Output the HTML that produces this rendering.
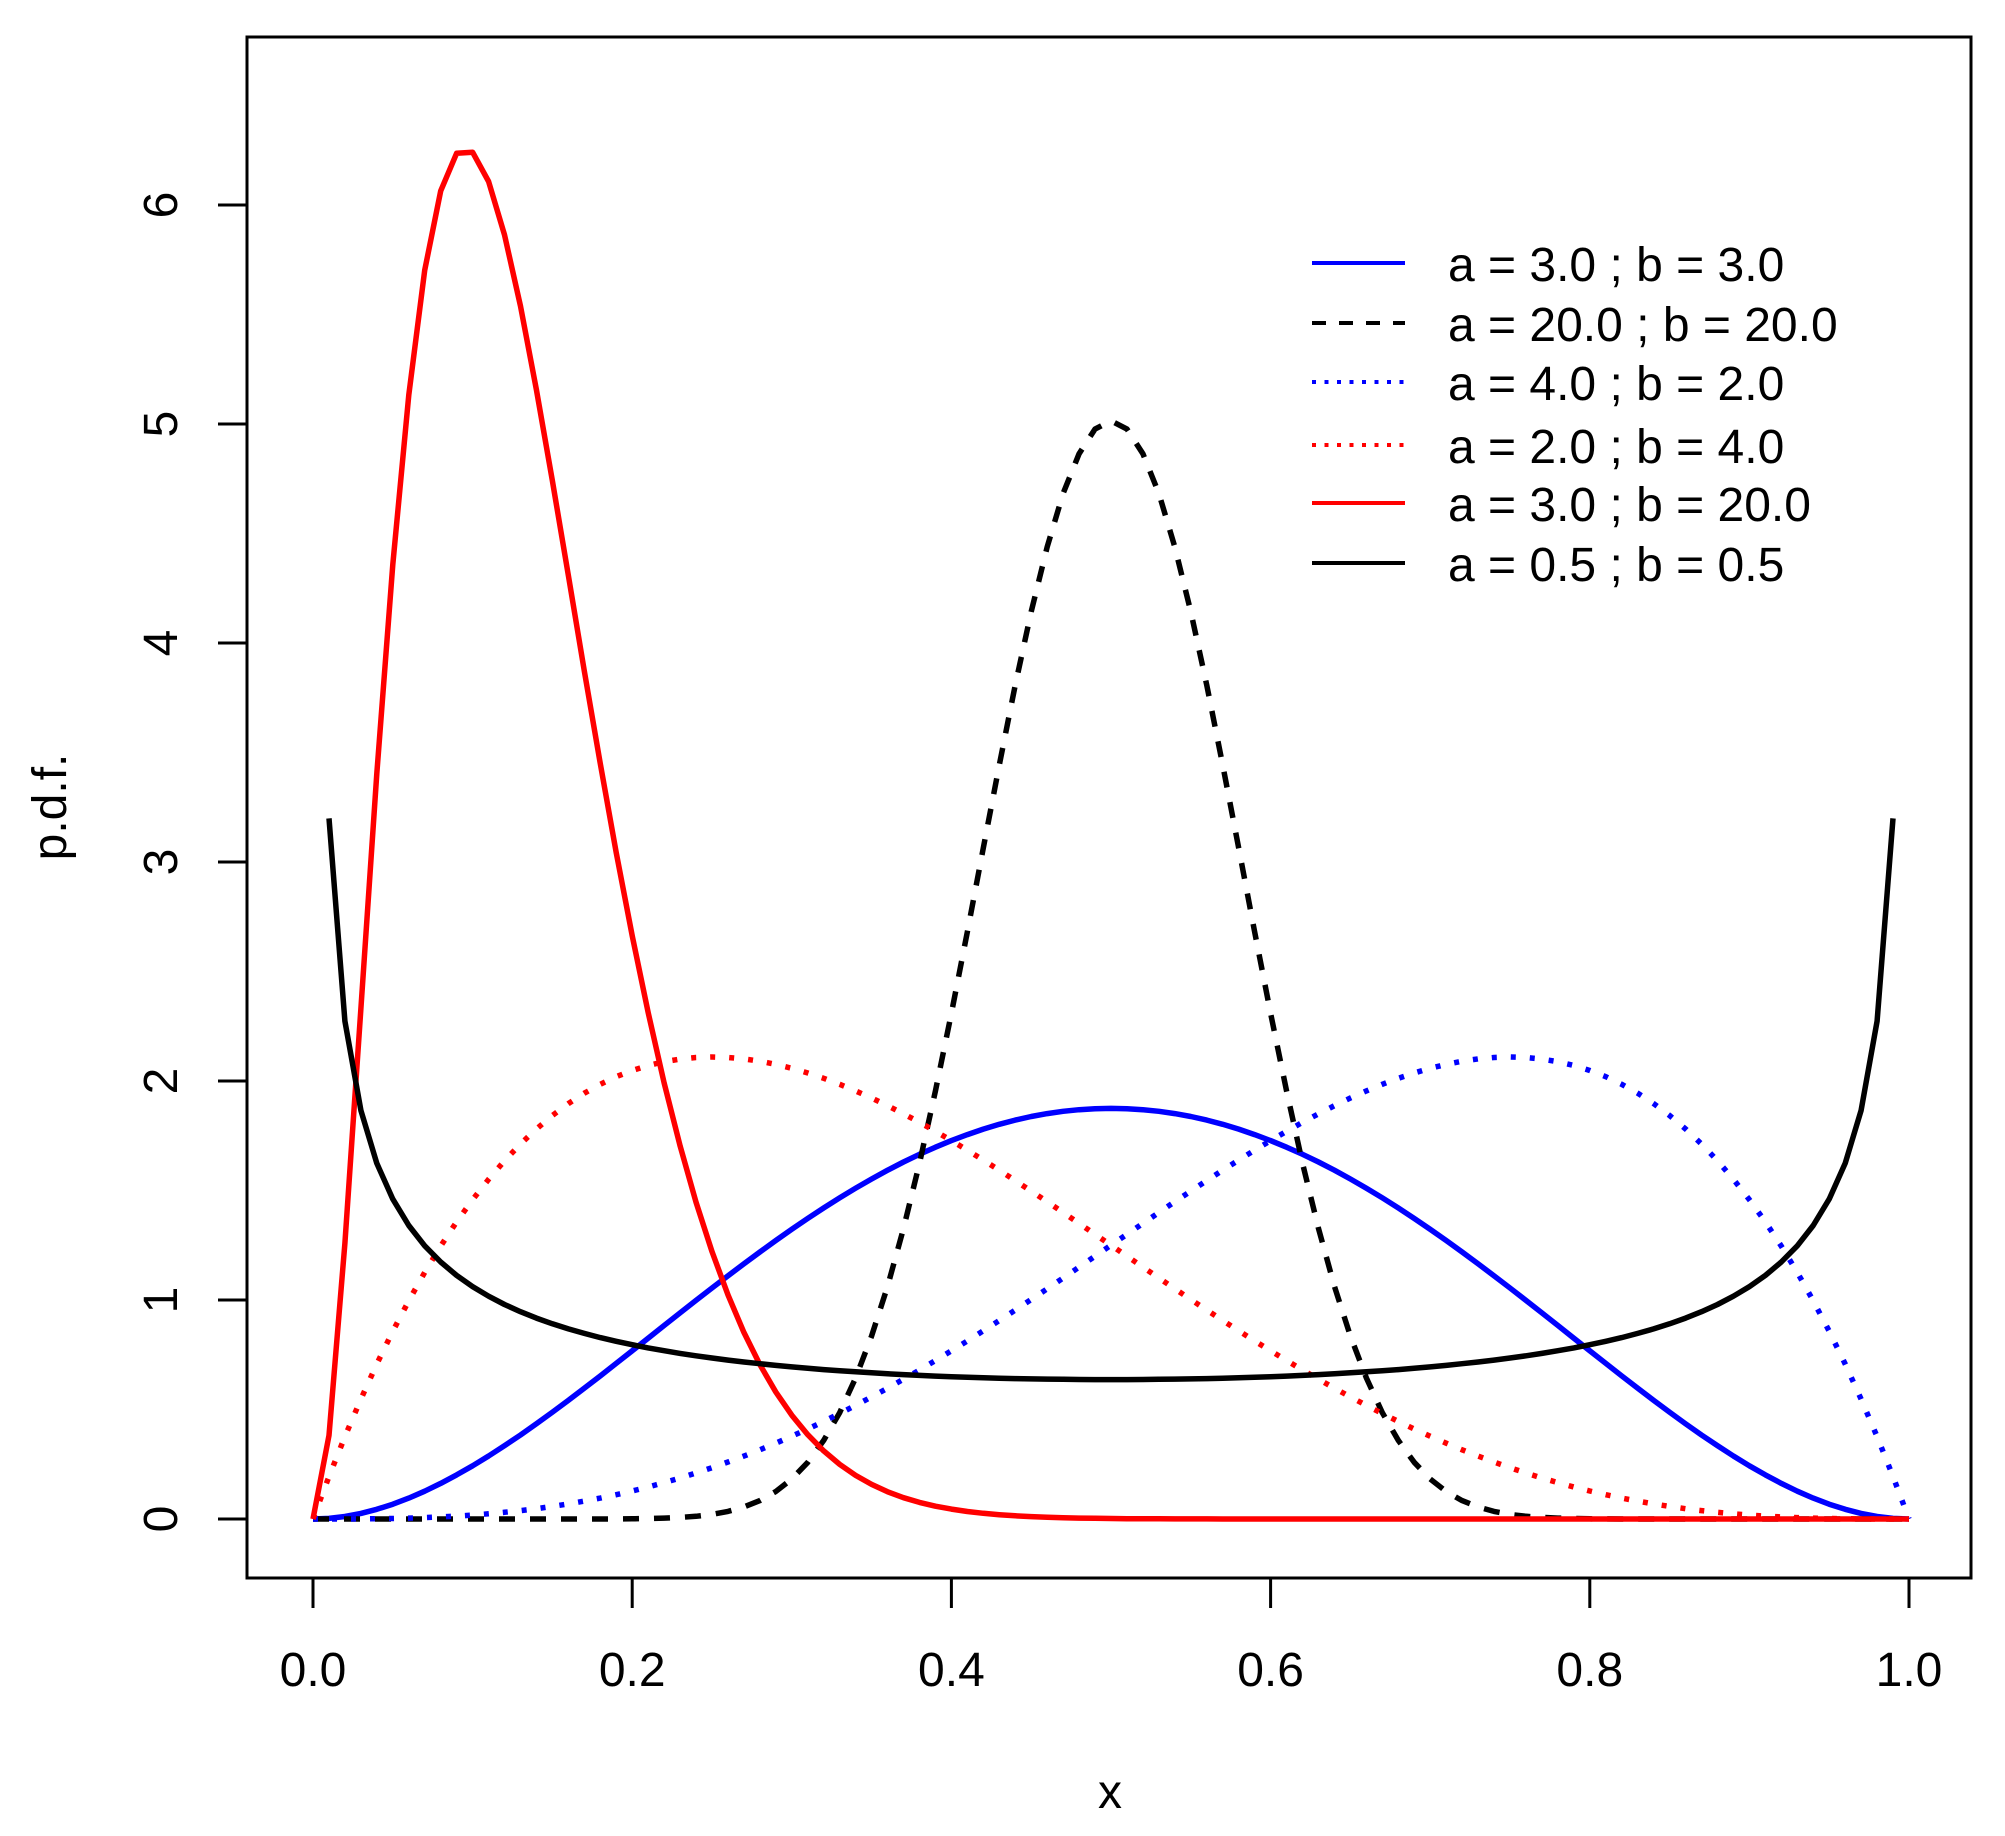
<!DOCTYPE html>
<html><head><meta charset="utf-8"><style>
html,body{margin:0;padding:0;background:#fff;}
svg{display:block;}
text{font-family:"Liberation Sans",Arial,sans-serif;fill:#000;}
</style></head><body>
<svg id="s" width="2005" height="1836" xmlns="http://www.w3.org/2000/svg">
<rect x="0" y="0" width="2005" height="1836" fill="#fff"/>
<g id="curves"></g>
<rect x="247" y="37" width="1724" height="1541" fill="none" stroke="#000" stroke-width="3"/>
<g stroke="#000" stroke-width="3">
<line x1="313" y1="1578" x2="1909" y2="1578"/>
<line x1="313" y1="1578" x2="313" y2="1608"/>
<line x1="632.2" y1="1578" x2="632.2" y2="1608"/>
<line x1="951.4" y1="1578" x2="951.4" y2="1608"/>
<line x1="1270.6" y1="1578" x2="1270.6" y2="1608"/>
<line x1="1589.8" y1="1578" x2="1589.8" y2="1608"/>
<line x1="1909" y1="1578" x2="1909" y2="1608"/>
<line x1="247" y1="1519" x2="247" y2="205"/>
<line x1="218" y1="1519" x2="247" y2="1519"/>
<line x1="218" y1="1300" x2="247" y2="1300"/>
<line x1="218" y1="1081" x2="247" y2="1081"/>
<line x1="218" y1="862" x2="247" y2="862"/>
<line x1="218" y1="643" x2="247" y2="643"/>
<line x1="218" y1="424" x2="247" y2="424"/>
<line x1="218" y1="205" x2="247" y2="205"/>
</g>
<g font-size="48" text-anchor="middle">
<text x="313" y="1686">0.0</text>
<text x="632.2" y="1686">0.2</text>
<text x="951.4" y="1686">0.4</text>
<text x="1270.6" y="1686">0.6</text>
<text x="1589.8" y="1686">0.8</text>
<text x="1909" y="1686">1.0</text>
<text x="1110" y="1808">x</text>
<text transform="translate(177,1519) rotate(-90)">0</text>
<text transform="translate(177,1300) rotate(-90)">1</text>
<text transform="translate(177,1081) rotate(-90)">2</text>
<text transform="translate(177,862) rotate(-90)">3</text>
<text transform="translate(177,643) rotate(-90)">4</text>
<text transform="translate(177,424) rotate(-90)">5</text>
<text transform="translate(177,205) rotate(-90)">6</text>
<text transform="translate(66,807) rotate(-90)">p.d.f.</text>
</g>
<g stroke-width="4">
<line x1="1312" y1="263" x2="1405" y2="263" stroke="#0000ff"/>
<line x1="1312" y1="323" x2="1405" y2="323" stroke="#000" stroke-dasharray="14 13"/>
<line x1="1312" y1="382" x2="1405" y2="382" stroke="#0000ff" stroke-dasharray="4 8.5"/>
<line x1="1312" y1="445" x2="1405" y2="445" stroke="#ff0000" stroke-dasharray="4 8.5"/>
<line x1="1312" y1="503" x2="1405" y2="503" stroke="#ff0000"/>
<line x1="1312" y1="563" x2="1405" y2="563" stroke="#000"/>
</g>
<g font-size="48">
<text x="1448" y="281">a = 3.0 ; b = 3.0</text>
<text x="1448" y="341">a = 20.0 ; b = 20.0</text>
<text x="1448" y="400">a = 4.0 ; b = 2.0</text>
<text x="1448" y="463">a = 2.0 ; b = 4.0</text>
<text x="1448" y="521">a = 3.0 ; b = 20.0</text>
<text x="1448" y="581">a = 0.5 ; b = 0.5</text>
</g>
</svg>
<script>
function lgamma(z){var g=7,c=[0.99999999999980993,676.5203681218851,-1259.1392167224028,771.32342877765313,-176.61502916214059,12.507343278686905,-0.13857109526572012,9.9843695780195716e-6,1.5056327351493116e-7];
if(z<0.5)return Math.log(Math.PI/Math.sin(Math.PI*z))-lgamma(1-z);
z-=1;var x=c[0];for(var i=1;i<g+2;i++)x+=c[i]/(z+i);var t=z+g+0.5;
return 0.5*Math.log(2*Math.PI)+(z+0.5)*Math.log(t)-t+Math.log(x);}
function dbeta(x,a,b){return Math.exp((a-1)*Math.log(x)+(b-1)*Math.log(1-x)+lgamma(a+b)-lgamma(a)-lgamma(b));}
var series=[[3,3,"#0000ff",""],[20,20,"#000","16 15"],[4,2,"#0000ff","5 14"],[2,4,"#ff0000","5 14"],[3,20,"#ff0000",""],[0.5,0.5,"#000",""]];
var g=document.getElementById("curves"),html="";
series.forEach(function(s){var pts=[];for(var i=0;i<=100;i++){var x=i/100,y;
if(x===0||x===1){if(s[0]<1)continue;y=0;}else y=dbeta(x,s[0],s[1]);
pts.push((313+x*1596).toFixed(1)+","+(1519-y*219).toFixed(1));}
html+='<polyline fill="none" stroke="'+s[2]+'" stroke-width="5.5" stroke-linejoin="round" '+(s[3]?'stroke-dasharray="'+s[3]+'" ':'')+'points="'+pts.join(" ")+'"/>';});
g.innerHTML=html;
</script>
</body></html>
